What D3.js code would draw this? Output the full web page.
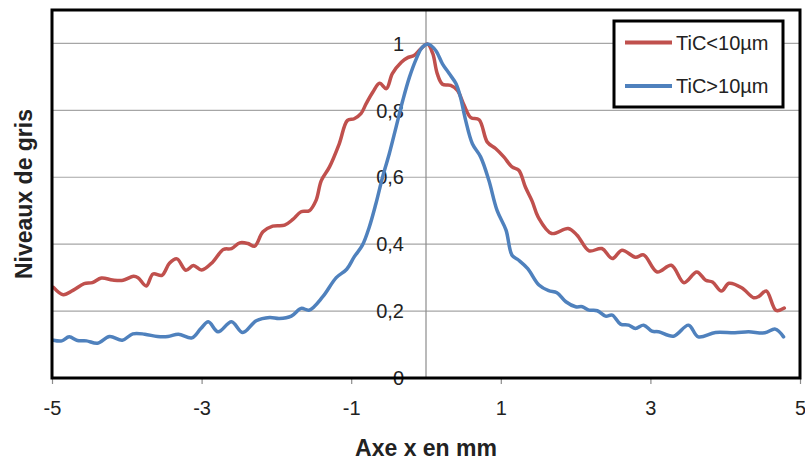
<!DOCTYPE html>
<html>
<head>
<meta charset="utf-8">
<script src="https://cdn.jsdelivr.net/npm/d3@7"></script>
<style>
  html, body { margin: 0; padding: 0; background: #fff; }
  svg { display: block; }
  text { font-family: "Liberation Sans", Arial, sans-serif; fill: #222; }
</style>
</head>
<body>
<svg id="chart" width="805" height="461"></svg>
<script>
// ---- data ----
const seriesNames = ["TiC<10µm", "TiC>10µm"];
const seriesColors = ["#C0504D", "#4F81BD"];

const redX = [-4.98,-4.85,-4.72,-4.57,-4.46,-4.34,-4.19,-4.05,-3.91,-3.85,-3.74,-3.65,-3.53,-3.43,-3.33,-3.21,-3.11,-3.00,-2.85,-2.71,-2.60,-2.49,-2.38,-2.29,-2.18,-2.05,-1.89,-1.78,-1.67,-1.56,-1.47,-1.40,-1.29,-1.16,-1.05,-0.96,-0.87,-0.80,-0.71,-0.62,-0.53,-0.45,-0.33,-0.25,-0.16,-0.07,0.02,0.09,0.15,0.22,0.33,0.42,0.51,0.60,0.71,0.82,0.93,1.04,1.15,1.24,1.33,1.42,1.50,1.68,1.90,2.02,2.18,2.35,2.49,2.62,2.80,2.91,3.09,3.28,3.45,3.62,3.74,3.83,3.95,4.05,4.22,4.38,4.45,4.55,4.68,4.79];
const redY = [0.271,0.249,0.262,0.282,0.285,0.299,0.293,0.292,0.304,0.300,0.275,0.311,0.307,0.343,0.356,0.322,0.336,0.323,0.347,0.384,0.387,0.404,0.402,0.394,0.437,0.454,0.457,0.474,0.497,0.500,0.531,0.590,0.631,0.700,0.770,0.775,0.790,0.820,0.855,0.881,0.865,0.910,0.944,0.957,0.964,0.984,0.998,0.970,0.910,0.878,0.875,0.860,0.815,0.778,0.772,0.705,0.686,0.661,0.631,0.621,0.570,0.528,0.481,0.432,0.447,0.427,0.380,0.387,0.357,0.382,0.361,0.368,0.317,0.337,0.285,0.317,0.292,0.287,0.260,0.283,0.270,0.240,0.244,0.260,0.202,0.209];

const blueX = [-4.98,-4.87,-4.77,-4.66,-4.54,-4.39,-4.23,-4.06,-3.92,-3.76,-3.59,-3.45,-3.31,-3.13,-3.01,-2.91,-2.78,-2.60,-2.45,-2.27,-2.09,-1.96,-1.80,-1.67,-1.56,-1.38,-1.20,-1.06,-0.96,-0.85,-0.76,-0.67,-0.58,-0.49,-0.40,-0.31,-0.22,-0.13,-0.05,0.03,0.13,0.22,0.31,0.40,0.46,0.53,0.62,0.73,0.84,0.95,1.07,1.15,1.24,1.36,1.51,1.64,1.75,1.87,2.00,2.09,2.18,2.29,2.40,2.49,2.60,2.71,2.80,2.91,3.02,3.11,3.31,3.51,3.64,3.87,4.13,4.31,4.53,4.67,4.78];
const blueY = [0.113,0.111,0.123,0.112,0.111,0.104,0.124,0.113,0.132,0.131,0.124,0.124,0.131,0.120,0.148,0.168,0.138,0.168,0.136,0.171,0.181,0.178,0.185,0.208,0.203,0.243,0.300,0.325,0.362,0.397,0.450,0.521,0.601,0.671,0.750,0.830,0.900,0.954,0.989,0.998,0.979,0.939,0.910,0.880,0.840,0.770,0.700,0.661,0.591,0.501,0.442,0.367,0.352,0.327,0.278,0.261,0.255,0.228,0.213,0.213,0.203,0.201,0.185,0.188,0.161,0.158,0.148,0.158,0.140,0.138,0.125,0.158,0.123,0.136,0.135,0.138,0.135,0.146,0.123];

const xTicks = [-5, -3, -1, 1, 3, 5];
const xTickLabels = ["-5", "-3", "-1", "1", "3", "5"];
const yTicks = [0, 0.2, 0.4, 0.6, 0.8, 1];
const yTickLabels = ["0", "0,2", "0,4", "0,6", "0,8", "1"];
const xTitle = "Axe x en mm";
const yTitle = "Niveaux  de gris";

// ---- layout ----
const svg = d3.select("#chart");
const mLeft = 52, mRight = 800, mTop = 10, mBottom = 378;

const x = d3.scaleLinear().domain([-5, 5]).range([mLeft, mRight]);
const y = d3.scaleLinear().domain([0, 1.1]).range([mBottom, mTop]);

// gridlines
svg.append("g")
  .selectAll("line")
  .data(yTicks.filter(d => d > 0))
  .join("line")
  .attr("x1", mLeft).attr("x2", mRight)
  .attr("y1", d => y(d)).attr("y2", d => y(d))
  .attr("stroke", "#a6a6a6").attr("stroke-width", 1.2);

// vertical axis at x = 0
svg.append("line")
  .attr("x1", x(0)).attr("x2", x(0))
  .attr("y1", mTop).attr("y2", mBottom)
  .attr("stroke", "#8c8c8c").attr("stroke-width", 1.2);

// y tick labels (next to x = 0 axis)
svg.append("g")
  .selectAll("text")
  .data(yTicks)
  .join("text")
  .attr("x", x(0) - 22)
  .attr("y", d => y(d))
  .attr("dy", "0.36em")
  .attr("text-anchor", "end")
  .style("font-size", "20px")
  .text((d, i) => yTickLabels[i]);

// x axis ticks + labels
const xAxis = d3.axisBottom(x).tickValues(xTicks).tickSize(6)
  .tickFormat((d, i) => xTickLabels[i]);
const gx = svg.append("g").attr("transform", `translate(0,${mBottom})`).call(xAxis);
gx.select(".domain").remove();
gx.selectAll(".tick line").attr("stroke", "#8c8c8c").attr("stroke-width", 1.2);
gx.selectAll(".tick text")
  .attr("y", 0).attr("dy", 0)
  .attr("transform", "translate(0,37)")
  .style("font-size", "20px")
  .style("font-family", "'Liberation Sans', Arial, sans-serif")
  .attr("fill", "#222");

// series
const line = d3.line()
  .x(d => x(d[0])).y(d => y(d[1]))
  .curve(d3.curveCatmullRom.alpha(0.5));

const series = [
  redX.map((v, i) => [v, redY[i]]),
  blueX.map((v, i) => [v, blueY[i]])
];

svg.append("g")
  .selectAll("path")
  .data(series)
  .join("path")
  .attr("d", line)
  .attr("fill", "none")
  .attr("stroke", (d, i) => seriesColors[i])
  .attr("stroke-width", 3.5)
  .attr("stroke-linejoin", "round")
  .attr("stroke-linecap", "round");

// plot frame
svg.append("rect")
  .attr("x", mLeft).attr("y", mTop)
  .attr("width", mRight - mLeft).attr("height", mBottom - mTop)
  .attr("fill", "none").attr("stroke", "#000").attr("stroke-width", 3);

// legend
const lg = svg.append("g");
lg.append("rect")
  .attr("x", 614).attr("y", 21).attr("width", 169).attr("height", 86)
  .attr("fill", "#fff").attr("stroke", "#000").attr("stroke-width", 3);
seriesNames.forEach((name, i) => {
  const ly = 42.5 + i * 43.5;
  lg.append("line")
    .attr("x1", 625).attr("x2", 672)
    .attr("y1", ly).attr("y2", ly)
    .attr("stroke", seriesColors[i]).attr("stroke-width", 4);
  lg.append("text")
    .attr("x", 676).attr("y", ly).attr("dy", "0.36em")
    .style("font-size", "20px")
    .text(name);
});

// axis titles
svg.append("text")
  .attr("x", (mLeft + mRight) / 2).attr("y", 456)
  .attr("text-anchor", "middle")
  .style("font-size", "23px").style("font-weight", "bold")
  .attr("fill", "#111")
  .text(xTitle);

svg.append("text")
  .attr("transform", `translate(32,${(mTop + mBottom) / 2}) rotate(-90)`)
  .attr("text-anchor", "middle")
  .style("font-size", "23px").style("font-weight", "bold")
  .attr("fill", "#111")
  .text(yTitle);
</script>
</body>
</html>
